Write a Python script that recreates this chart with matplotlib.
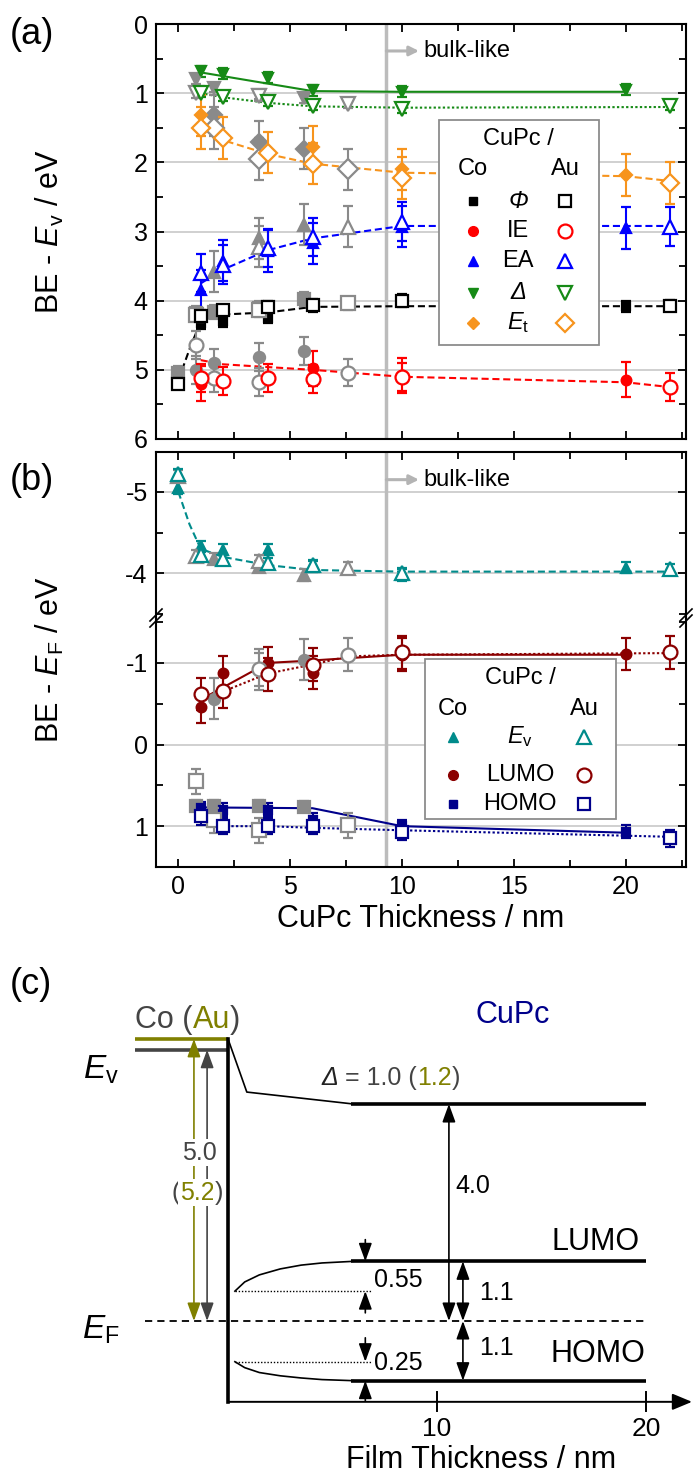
import numpy as np
import matplotlib
matplotlib.use('Agg')
import matplotlib.pyplot as plt
from matplotlib.patches import Rectangle
from matplotlib.ticker import MultipleLocator

plt.rcParams['font.family'] = ['Liberation Sans', 'DejaVu Sans']
plt.rcParams['mathtext.fontset'] = 'custom'
plt.rcParams['mathtext.rm'] = 'Liberation Sans'
plt.rcParams['mathtext.it'] = 'Liberation Sans:italic'
plt.rcParams['axes.unicode_minus'] = False

# ---------------- data, panel (a): BE - Ev (eV) ----------------
# Co = filled, Au = open, grey = second data set
phi_co_x = [0, 1, 2, 4, 6, 10, 20]
phi_co = [5.2, 4.33, 4.3, 4.25, 4.08, 3.98, 4.08]
phi_au_x = [0, 1, 2, 4, 6, 10, 22]
phi_au = [5.2, 4.22, 4.14, 4.09, 4.06, 4.01, 4.07]
phi_gf_x = [0, 0.8, 1.6, 3.6, 5.6]
phi_gf = [5.05, 4.18, 4.16, 4.1, 3.98]
phi_go_x = [0.8, 3.6, 7.6]
phi_go = [4.2, 4.13, 4.04]
phi_fit_x = [0, 0.5, 1, 1.6, 2, 4, 6, 10, 22]
phi_fit = [5.15, 4.7, 4.3, 4.22, 4.2, 4.17, 4.09, 4.08, 4.08]

ie_co_x = [1, 6, 10, 20]
ie_co = [5.2, 4.98, 5.08, 5.14]
ie_au_x = [1, 2, 4, 6, 10, 22]
ie_au = [5.12, 5.16, 5.12, 5.13, 5.1, 5.25]
ie_gf_x = [0.8, 1.6, 3.6, 5.6]
ie_gf = [5.0, 4.9, 4.81, 4.73]
ie_go_x = [0.8, 1.6, 3.6, 7.6]
ie_go = [4.64, 5.12, 5.18, 5.04]
ie_fit_x = [1, 2, 6, 10, 20, 22]
ie_fit = [4.86, 4.92, 5.0, 5.1, 5.18, 5.25]

ea_co_x = [1, 2, 4, 6, 10, 20]
ea_co = [3.85, 3.42, 3.28, 3.17, 2.93, 2.95]
ea_au_x = [1, 2, 4, 6, 10, 22]
ea_au = [3.6, 3.48, 3.24, 3.08, 2.86, 2.93]
ea_gf_x = [1.6, 3.6, 5.6]
ea_gf = [3.58, 3.1, 2.9]
ea_go_x = [3.6, 7.6]
ea_go = [3.22, 2.93]
ea_fit_x = [1, 2, 4, 6, 10, 22]
ea_fit = [3.75, 3.55, 3.27, 3.1, 2.92, 2.92]

dl_co_x = [1, 2, 4, 6, 10, 20]
dl_co = [0.68, 0.72, 0.78, 0.96, 0.98, 0.95]
dl_au_x = [1, 2, 4, 6, 10, 22]
dl_au = [1.0, 1.06, 1.13, 1.18, 1.23, 1.18]
dl_gf_x = [0.8, 1.6, 3.6, 5.6]
dl_gf = [0.8, 0.92, 1.02, 1.07]
dl_go_x = [0.8, 3.6, 7.6]
dl_go = [1.0, 1.04, 1.15]
dl_fit_co_x = [1, 6, 10, 20]
dl_fit_co = [0.7, 0.97, 0.98, 0.98]
dl_fit_au_x = [1, 2, 4, 6, 10, 22]
dl_fit_au = [1.0, 1.06, 1.14, 1.19, 1.21, 1.2]

et_co_x = [1, 6, 10, 20]
et_co = [1.32, 1.78, 2.1, 2.18]
et_au_x = [1, 2, 4, 6, 10, 22]
et_au = [1.5, 1.65, 1.86, 2.02, 2.23, 2.3]
et_gf_x = [1.6, 3.6, 5.6]
et_gf = [1.32, 1.7, 1.8]
et_go_x = [1.6, 3.6, 7.6]
et_go = [1.5, 1.95, 2.1]
et_fit_x = [1.3, 2, 4, 6, 10, 20, 22]
et_fit = [1.55, 1.68, 1.88, 2.02, 2.15, 2.2, 2.27]

# ---------------- data, panel (b): BE - EF (eV) ----------------
ev_co_x = [0, 1, 2, 4, 6, 10, 20]
ev_co = [-5.05, -4.33, -4.29, -4.29, -4.08, -3.98, -4.07]
ev_au_x = [0, 1, 2, 4, 6, 10, 22]
ev_au = [-5.22, -4.22, -4.18, -4.13, -4.1, -4.0, -4.05]
ev_gf_x = [1.6, 3.6, 5.6]
ev_gf = [-4.18, -4.08, -3.98]
ev_go_x = [0, 0.8, 3.6, 7.6]
ev_go = [-5.2, -4.21, -4.15, -4.07]
ev_fit_x = [0, 0.5, 1, 2, 4, 6, 10, 22]
ev_fit = [-5.0, -4.6, -4.3, -4.2, -4.1, -4.04, -4.02, -4.02]

lu_co_x = [1, 2, 4, 6, 10, 20]
lu_co = [-0.46, -0.88, -1.0, -0.88, -1.1, -1.11]
lu_au_x = [1, 2, 4, 6, 10, 22]
lu_au = [-0.62, -0.65, -0.86, -0.98, -1.13, -1.13]
lu_gf_x = [1.6, 3.6, 5.6]
lu_gf = [-0.56, -0.92, -1.04]
lu_go_x = [3.6, 7.6]
lu_go = [-0.92, -1.1]
lu_fit_co_x = [1, 4, 6, 10, 20]
lu_fit_co = [-0.55, -1.0, -1.03, -1.1, -1.1]
lu_fit_au_x = [1, 2, 4, 6, 7.6, 10, 22]
lu_fit_au = [-0.55, -0.65, -0.87, -0.98, -1.08, -1.1, -1.12]

ho_co_x = [1, 2, 4, 6, 10, 20]
ho_co = [0.78, 0.8, 0.8, 0.92, 1.0, 1.07]
ho_au_x = [1, 2, 4, 6, 10, 22]
ho_au = [0.88, 1.0, 1.0, 1.0, 1.07, 1.15]
ho_gf_x = [0.8, 1.6, 3.6, 5.6]
ho_gf = [0.75, 0.75, 0.75, 0.76]
ho_go_x = [0.8, 1.6, 3.6, 7.6]
ho_go = [0.45, 0.93, 1.05, 0.99]
ho_fit_co_x = [1, 6, 10, 20]
ho_fit_co = [0.77, 0.78, 1.0, 1.08]
ho_fit_au_x = [1, 2, 4, 6, 10, 22]
ho_fit_au = [0.9, 1.0, 1.0, 1.02, 1.05, 1.13]

bulk_start = 9.3

# ---------------- data, panel (c): schematic (eV vs E_F, nm) ----------------
co_wf = 5.0
au_wf = 5.2
cupc_vac = 4.0
lumo = 1.1
homo = -1.1
lumo_if = 0.55
homo_if = -0.75
vac_x = [0, 0.9, 6]
vac_y = [5.2, 4.22, 4.0]
lumo_curve_x = [0.33, 0.8, 1.5, 2.5, 3.5, 4.5, 6]
lumo_curve_y = [0.55, 0.72, 0.85, 0.96, 1.03, 1.07, 1.1]
homo_curve_x = [0.33, 0.8, 1.5, 2.5, 3.5, 4.5, 6]
homo_curve_y = [-0.75, -0.86, -0.95, -1.01, -1.05, -1.08, -1.1]

GREY = '#8a8a8a'
C_GREEN, C_ORANGE, C_BLUE, C_RED, C_BLACK = '#168a16', '#f7941d', '#0000ff', '#ff0000', '#000000'
C_TEAL, C_DRED, C_NAVY = '#008b8b', '#8b0000', '#00008b'
OLIVE, DGREY = '#808000', '#444444'

W, H = 694, 1477
fig = plt.figure(figsize=(W / 100, H / 100), dpi=100)


def box(l, t, r, b):
    return [l / W, 1 - b / H, (r - l) / W, (b - t) / H]


ax_a = fig.add_axes(box(156, 24, 686, 439))
ax_bu = fig.add_axes(box(156, 452, 686, 618))
ax_bl = fig.add_axes(box(156, 618, 686, 867))


def style(ax, ymaj=1, ymin=0.5):
    ax.set_xlim(-1, 22.7)
    ax.xaxis.set_major_locator(MultipleLocator(5))
    ax.xaxis.set_minor_locator(MultipleLocator(2.5))
    ax.yaxis.set_major_locator(MultipleLocator(ymaj))
    ax.yaxis.set_minor_locator(MultipleLocator(ymin))
    ax.tick_params(which='both', direction='in', top=True, right=True,
                   width=1.3, labelsize=18, pad=6)
    ax.tick_params(which='major', length=6)
    ax.tick_params(which='minor', length=5)
    for s in ax.spines.values():
        s.set_linewidth(1.5)
    ax.grid(axis='y', which='major', color='#c8c8c8', lw=1.2)
    ax.set_axisbelow(True)
    ax.axvline(bulk_start, color='#bcbcbc', lw=2.5, zorder=1)


def pts(ax, x, y, err, color, marker, filled, ms=None):
    if ms is None:
        ms = 7 if filled else 10
    ax.errorbar(x, y, yerr=err, fmt=marker, color=color, ecolor=color,
                mfc=color if filled else 'white', mec=color, ms=ms, mew=1.6,
                elinewidth=1.5, capsize=3.5, capthick=1.5,
                zorder=4 if filled else 5)


def fit(ax, x, y, color, style='--'):
    dashes = {'--': (3.4, 1.8), ':': (1.1, 1.1), '-': ()}[style]
    ln, = ax.plot(x, y, color=color, lw=1.5, zorder=3)
    if dashes:
        ln.set_dashes(dashes)


def bulk(ax, y):
    ax.annotate('', xy=(10.76, y), xytext=(bulk_start, y),
                arrowprops=dict(arrowstyle='-|>', color='#b4b4b4', lw=2.2,
                                mutation_scale=14, shrinkA=0, shrinkB=0))
    ax.text(10.94, y, 'bulk-like', fontsize=17, va='center')


# ---------------- panel (a) ----------------
style(ax_a)
ax_a.set_ylim(6, 0)
ax_a.tick_params(labelbottom=False)

for gx, gy, gm, gf, e in [(phi_gf_x, phi_gf, 's', True, 0.1), (phi_go_x, phi_go, 's', False, 0.1),
                          (ie_gf_x, ie_gf, 'o', True, 0.2), (ie_go_x, ie_go, 'o', False, 0.2),
                          (ea_gf_x, ea_gf, '^', True, 0.3), (ea_go_x, ea_go, '^', False, 0.3),
                          (dl_gf_x, dl_gf, 'v', True, 0.07), (dl_go_x, dl_go, 'v', False, 0.07),
                          (et_gf_x, et_gf, 'D', True, 0.3), (et_go_x, et_go, 'D', False, 0.3)]:
    pts(ax_a, gx, gy, e, GREY, gm, gf, ms=8 if gf else 10)

fit(ax_a, phi_fit_x, phi_fit, C_BLACK)
fit(ax_a, ie_fit_x, ie_fit, C_RED)
fit(ax_a, ea_fit_x, ea_fit, C_BLUE)
fit(ax_a, dl_fit_co_x, dl_fit_co, C_GREEN, '-')
fit(ax_a, dl_fit_au_x, dl_fit_au, C_GREEN, ':')
fit(ax_a, et_fit_x, et_fit, C_ORANGE)

pts(ax_a, phi_co_x, phi_co, 0.08, C_BLACK, 's', True, 6)
pts(ax_a, phi_au_x, phi_au, 0.08, C_BLACK, 's', False, 9)
pts(ax_a, ie_co_x, ie_co, 0.25, C_RED, 'o', True)
pts(ax_a, ie_au_x, ie_au, 0.2, C_RED, 'o', False)
pts(ax_a, ea_co_x, ea_co, 0.3, C_BLUE, '^', True)
pts(ax_a, ea_au_x, ea_au, 0.28, C_BLUE, '^', False)
pts(ax_a, dl_co_x, dl_co, 0.08, C_GREEN, 'v', True)
pts(ax_a, dl_au_x, dl_au, 0.06, C_GREEN, 'v', False)
pts(ax_a, et_co_x, et_co, 0.3, C_ORANGE, 'D', True, 6)
pts(ax_a, et_au_x, et_au, 0.3, C_ORANGE, 'D', False, 9)

bulk(ax_a, 0.39)


def legend(ax, rect, title_y, head_y, head_x, rows, colors, markers, labels, italic, msf, mso):
    l, b, r, t = rect
    ax.add_patch(Rectangle((l, b), r - l, t - b, transform=ax.transAxes, fc='white',
                           ec='#8c8c8c', lw=1.3, zorder=10, clip_on=False))
    xf, xl, xo = head_x
    kw = dict(transform=ax.transAxes, ha='center', va='center', fontsize=17, zorder=11)
    ax.text(xl, title_y, 'CuPc /', **kw)
    ax.text(xf, head_y, 'Co', **kw)
    ax.text(xo, head_y, 'Au', **kw)
    for yy, c, m, lab, it, a, o in zip(rows, colors, markers, labels, italic, msf, mso):
        ax.plot([xf], [yy], m, color=c, ms=a, transform=ax.transAxes, zorder=11, clip_on=False)
        ax.plot([xo], [yy], m, mfc='white', mec=c, mew=1.6, ms=o, transform=ax.transAxes,
                zorder=11, clip_on=False)
        ax.text(xl, yy, lab, style='italic' if it else 'normal', **kw)


legend(ax_a, (0.534, 0.227, 0.836, 0.769), 0.722, 0.65, (0.598, 0.683, 0.772),
       [0.573, 0.501, 0.428, 0.353, 0.280],
       [C_BLACK, C_RED, C_BLUE, C_GREEN, C_ORANGE], ['s', 'o', '^', 'v', 'D'],
       ['Φ', 'IE', 'EA', 'Δ', r'$\mathit{E}_\mathrm{t}$'], [True, False, False, True, False],
       [6, 7, 7, 7, 6], [9, 10, 10, 10, 9])

# ---------------- panel (b) ----------------
style(ax_bu)
style(ax_bl)
ax_bu.set_ylim(-3.45, -5.49)
ax_bl.set_ylim(1.5, -1.55)
ax_bu.spines['bottom'].set_visible(False)
ax_bl.spines['top'].set_visible(False)
ax_bu.tick_params(which='both', bottom=False, labelbottom=False)
ax_bl.tick_params(which='both', top=False)

for gx, gy, gm, gf, e in [(ev_gf_x, ev_gf, '^', True, 0.07), (ev_go_x, ev_go, '^', False, 0.07)]:
    pts(ax_bu, gx, gy, e, GREY, gm, gf, ms=8 if gf else 10)
fit(ax_bu, ev_fit_x, ev_fit, C_TEAL)
pts(ax_bu, ev_co_x, ev_co, 0.07, C_TEAL, '^', True)
pts(ax_bu, ev_au_x, ev_au, 0.06, C_TEAL, '^', False)
bulk(ax_bu, -5.15)

for gx, gy, gm, gf, e in [(lu_gf_x, lu_gf, 'o', True, 0.25), (lu_go_x, lu_go, 'o', False, 0.2),
                          (ho_gf_x, ho_gf, 's', True, 0.07), (ho_go_x, ho_go, 's', False, 0.15)]:
    pts(ax_bl, gx, gy, e, GREY, gm, gf, ms=8 if gf else 10)
fit(ax_bl, lu_fit_co_x, lu_fit_co, C_DRED, '-')
fit(ax_bl, lu_fit_au_x, lu_fit_au, C_DRED, ':')
fit(ax_bl, ho_fit_co_x, ho_fit_co, C_NAVY, '-')
fit(ax_bl, ho_fit_au_x, ho_fit_au, C_NAVY, ':')
pts(ax_bl, lu_co_x, lu_co, 0.2, C_DRED, 'o', True)
pts(ax_bl, lu_au_x, lu_au, 0.2, C_DRED, 'o', False)
pts(ax_bl, ho_co_x, ho_co, 0.08, C_NAVY, 's', True, 6)
pts(ax_bl, ho_au_x, ho_au, 0.1, C_NAVY, 's', False, 9)

legend(ax_bl, (0.5075, 0.193, 0.868, 0.835), 0.759, 0.635, (0.56, 0.687, 0.8075),
       [0.522, 0.369, 0.253],
       [C_TEAL, C_DRED, C_NAVY], ['^', 'o', 's'],
       [r'$\mathit{E}_\mathrm{v}$', 'LUMO', 'HOMO'], [False, False, False], [7, 7, 6], [10, 10, 9])

ax_bl.set_xlabel('CuPc Thickness / nm', fontsize=22, labelpad=3)

# axis break marks
for xs in (156, 686):
    for dy in (-3, 3):
        fig.add_artist(plt.Line2D([(xs - 6) / W, (xs + 6) / W],
                                  [1 - (618 + dy + 6) / H, 1 - (618 + dy - 6) / H],
                                  color='black', lw=1.2))

fig.text(50 / W, 1 - 232 / H, r'BE - $\mathit{E}_\mathrm{v}$ / eV', rotation=90,
         ha='center', va='center', fontsize=22)
fig.text(50 / W, 1 - 660 / H, r'BE - $\mathit{E}_\mathrm{F}$ / eV', rotation=90,
         ha='center', va='center', fontsize=22)
fig.text(10 / W, 1 - 35 / H, '(a)', fontsize=26, va='center')
fig.text(10 / W, 1 - 480 / H, '(b)', fontsize=26, va='center')
fig.text(10 / W, 1 - 985 / H, '(c)', fontsize=26, va='center')

# ---------------- panel (c) ----------------
ax_c = fig.add_axes([0, 0, 1, (H - 960) / H])
ax_c.set_xlim(-228 / 20.9, (W - 228) / 20.9)
ax_c.set_ylim((1321 - H) / 54.25, (1321 - 960) / 54.25)
ax_c.axis('off')
axis_y = -1.49

ax_c.plot([-4.45, 0], [au_wf, au_wf], color=OLIVE, lw=2.6, solid_capstyle='butt')
ax_c.plot([-4.45, 0], [co_wf, co_wf], color=DGREY, lw=2.6, solid_capstyle='butt')
ax_c.plot([0, 0], [axis_y, au_wf], color='black', lw=2.6)
ax_c.annotate('', xy=(22.2, axis_y), xytext=(0, axis_y),
              arrowprops=dict(arrowstyle='-|>,head_length=0.6,head_width=0.25', color='black',
                              lw=1.4, mutation_scale=20, shrinkA=0, shrinkB=0))
for tx in (10, 20):
    ax_c.plot([tx, tx], [-1.66, -1.31], color='black', lw=1.4)
    ax_c.text(tx, -2.0, str(tx), ha='center', va='center', fontsize=19)
ax_c.text(12.1, -2.56, 'Film Thickness / nm', ha='center', va='center', fontsize=22)

ef, = ax_c.plot([-3.97, 20], [0, 0], color='black', lw=1.3)
ef.set_dashes((4, 2.8))

ax_c.plot(vac_x, vac_y, color='black', lw=1.2)
ax_c.plot(lumo_curve_x, lumo_curve_y, color='black', lw=1.2)
ax_c.plot(homo_curve_x, homo_curve_y, color='black', lw=1.2)
for lev in (cupc_vac, lumo, homo):
    ax_c.plot([5.9, 20], [lev, lev], color='black', lw=2.6, solid_capstyle='butt')
for lev in (lumo_if, homo_if):
    d, = ax_c.plot([0.33, 6.9], [lev, lev], color='black', lw=1.0)
    d.set_dashes((1, 1.3))


def darrow(x, y0, y1, color='black'):
    ax_c.annotate('', xy=(x, y1), xytext=(x, y0),
                  arrowprops=dict(arrowstyle='<|-|>,head_length=0.55,head_width=0.2', color=color,
                                  lw=1.2, mutation_scale=20, shrinkA=0, shrinkB=0))


def sarrow(x, y0, y1):
    ax_c.annotate('', xy=(x, y1), xytext=(x, y0),
                  arrowprops=dict(arrowstyle='-|>,head_length=0.55,head_width=0.2', color='black',
                                  lw=1.2, mutation_scale=20, shrinkA=0, shrinkB=0))


darrow(-1.63, au_wf, 0, OLIVE)
darrow(-1.0, co_wf, 0, DGREY)
darrow(10.57, cupc_vac, 0)
darrow(11.24, lumo, 0)
darrow(11.24, 0, homo)
sarrow(6.57, 1.5, lumo)
sarrow(6.57, 0.15, lumo_if)
sarrow(6.57, -0.31, homo_if)
sarrow(6.57, -1.47, homo)

wb = dict(fc='white', ec='none', pad=1)
ax_c.text(-1.39, 3.1, '5.0', color=DGREY, ha='center', va='center', fontsize=18, bbox=wb)
t1 = ax_c.text(-2.7, 2.36, '(', color=DGREY, ha='left', va='center', fontsize=18, bbox=wb)
t2 = ax_c.annotate('5.2', xy=(1, 0), xycoords=t1, ha='left', va='bottom', color=OLIVE,
                   fontsize=18, bbox=wb)
ax_c.annotate(')', xy=(1, 0), xycoords=t2, ha='left', va='bottom', color=DGREY, fontsize=18, bbox=wb)

ax_c.text(10.9, 2.48, '4.0', ha='left', va='center', fontsize=18)
ax_c.text(12.0, 0.52, '1.1', ha='left', va='center', fontsize=18)
ax_c.text(12.0, -0.5, '1.1', ha='left', va='center', fontsize=18)
ax_c.text(7.0, 0.76, '0.55', ha='left', va='center', fontsize=18)
ax_c.text(7.0, -0.77, '0.25', ha='left', va='center', fontsize=18)
ax_c.text(19.7, 1.46, 'LUMO', ha='right', va='center', fontsize=22)
ax_c.text(19.95, -0.6, 'HOMO', ha='right', va='center', fontsize=22)
ax_c.text(13.6, 5.64, 'CuPc', ha='center', va='center', fontsize=22, color=C_NAVY)

d1 = ax_c.text(4.48, 4.48, 'Δ', style='italic', ha='left', va='center', fontsize=18, color='#222222')
d2 = ax_c.annotate(' = 1.0 (', xy=(1, 0), xycoords=d1, ha='left', va='bottom', fontsize=18, color=DGREY)
d3 = ax_c.annotate('1.2', xy=(1, 0), xycoords=d2, ha='left', va='bottom', fontsize=18, color=OLIVE)
ax_c.annotate(')', xy=(1, 0), xycoords=d3, ha='left', va='bottom', fontsize=18, color=DGREY)

c1 = ax_c.text(-4.45, 5.55, 'Co (', ha='left', va='center', fontsize=22, color=DGREY)
c2 = ax_c.annotate('Au', xy=(1, 0), xycoords=c1, ha='left', va='bottom', fontsize=22, color=OLIVE)
ax_c.annotate(')', xy=(1, 0), xycoords=c2, ha='left', va='bottom', fontsize=22, color=DGREY)

ax_c.text(-6.1, 4.63, r'$\mathit{E}_\mathrm{v}$', ha='center', va='center', fontsize=24)
ax_c.text(-6.1, -0.17, r'$\mathit{E}_\mathrm{F}$', ha='center', va='center', fontsize=24)

fig.savefig('out.png', dpi=100)
